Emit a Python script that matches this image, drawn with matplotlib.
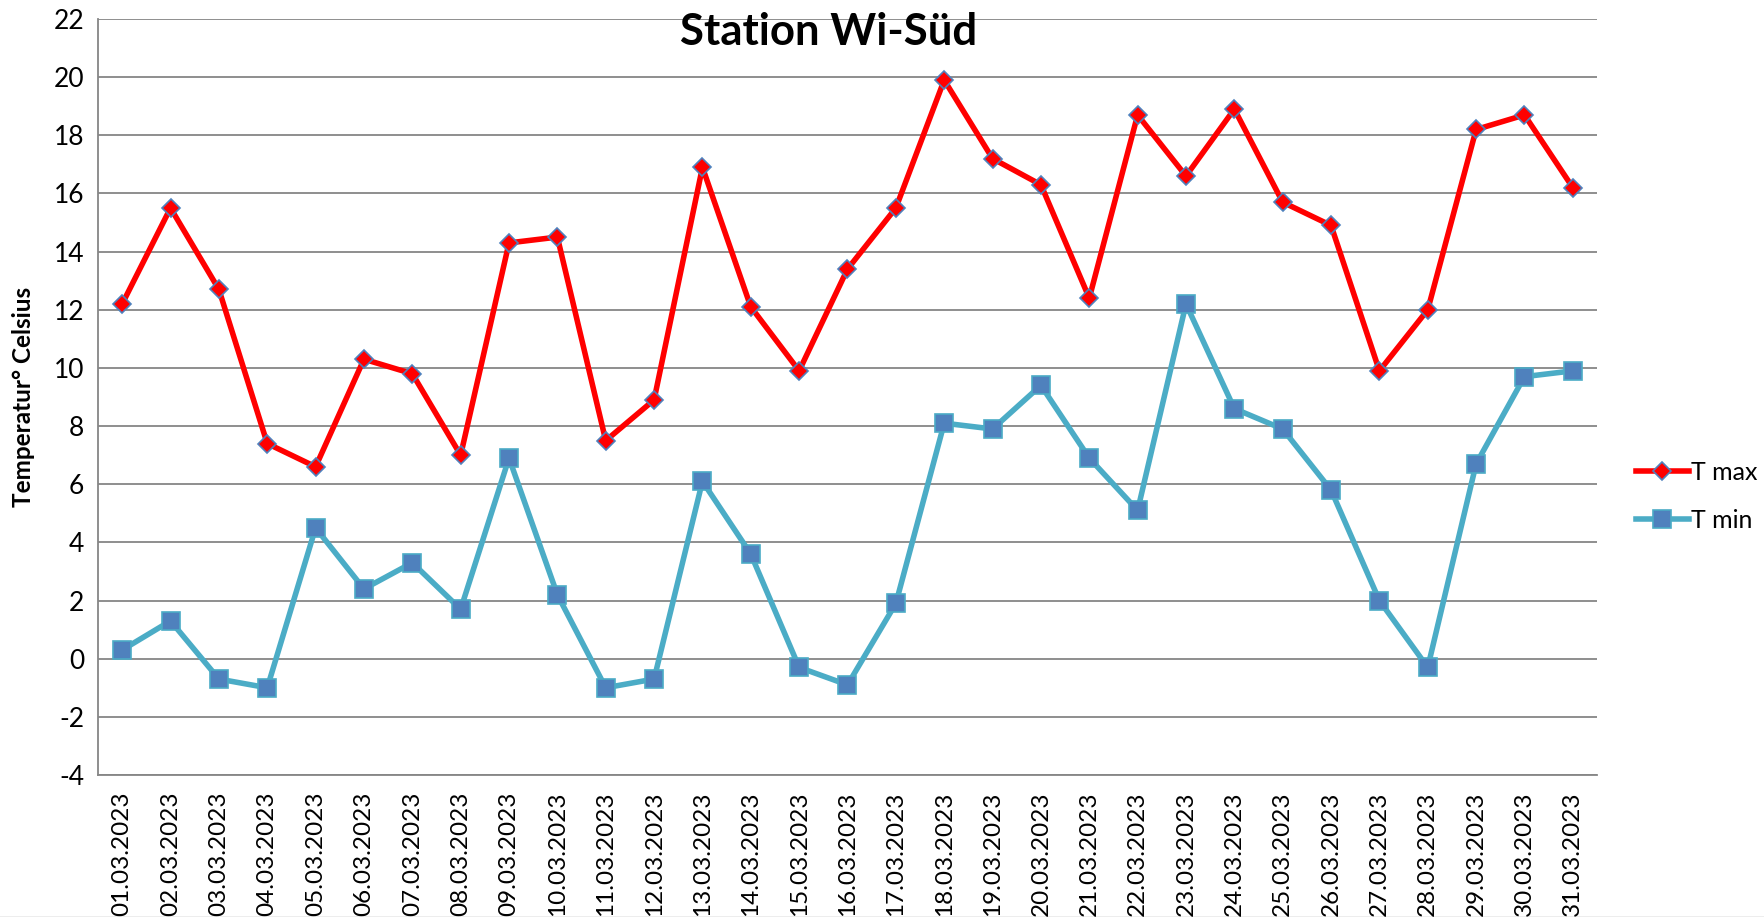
"""Daily max/min temperature, Station Wi-Sued, March 2023"""

import matplotlib
matplotlib.use("Agg")
import matplotlib.pyplot as plt
from matplotlib.lines import Line2D

days = ["%02d.03.2023" % d for d in range(1, 32)]

t_max = [12.2, 15.5, 12.7, 7.4, 6.6, 10.3, 9.8, 7.0, 14.3, 14.5,
         7.5, 8.9, 16.9, 12.1, 9.9, 13.4, 15.5, 19.9, 17.2, 16.3,
         12.4, 18.7, 16.6, 18.9, 15.7, 14.9, 9.9, 12.0, 18.2, 18.7, 16.2]

t_min = [0.3, 1.3, -0.7, -1.0, 4.5, 2.4, 3.3, 1.7, 6.9, 2.2,
         -1.0, -0.7, 6.1, 3.6, -0.3, -0.9, 1.9, 8.1, 7.9, 9.4,
         6.9, 5.1, 12.2, 8.6, 7.9, 5.8, 2.0, -0.3, 6.7, 9.7, 9.9]

y_ticks = list(range(-4, 23, 2))

plt.rcParams['font.family'] = ['Lato', 'DejaVu Sans']

fig = plt.figure(figsize=(17.64, 9.17), dpi=100)
ax = fig.add_axes([98 / 1764, 1 - 775 / 917, 1499 / 1764, 756 / 917])

x = range(len(days))
ax.plot(x, t_max, color="#FF0000", lw=4, marker="D", ms=9.5,
        mfc="#FF0000", mec="#4F81BD", mew=1.2, label="T max", zorder=3)
ax.plot(x, t_min, color="#4BACC6", lw=4, marker="s", ms=12.5,
        mfc="#4F81BD", mec="#4BACC6", mew=1.2, label="T min", zorder=3)

ax.set_xlim(-0.5, len(days) - 0.5)
ax.set_ylim(-4, 22)
ax.set_yticks(y_ticks)
ax.set_yticklabels([str(v) for v in y_ticks], fontsize=19)
ax.set_xticks(list(x))
ax.set_xticklabels(days, rotation=90, fontsize=17.5)
ax.tick_params(length=0, pad=10)
ax.tick_params(axis="x", pad=12)
ax.grid(axis="y", color="#868686", lw=1.3)
ax.set_axisbelow(True)
for side in ["top", "right"]:
    ax.spines[side].set_visible(False)
for side in ["left", "bottom"]:
    ax.spines[side].set_color("#868686")
    ax.spines[side].set_linewidth(1.3)

ax.set_ylabel("Temperatur° Celsius", fontsize=17.5, fontweight="bold",
              va="center")
ax.yaxis.set_label_coords((24 - 98) / 1499, 0.5)

fig.text(829 / 1764, 1 - 32 / 917, "Station Wi-Süd", fontsize=31.5,
         fontweight="bold", ha="center", va="center")

handles = [
    Line2D([], [], color="#FF0000", lw=4, marker="D", ms=9.5,
           mfc="#FF0000", mec="#4F81BD", mew=1.2),
    Line2D([], [], color="#4BACC6", lw=4, marker="s", ms=12.5,
           mfc="#4F81BD", mec="#4BACC6", mew=1.2),
]
fig.legend(handles, ["T max", "T min"], loc="center left",
           bbox_to_anchor=(1626 / 1764, 1 - 496 / 917), frameon=False,
           fontsize=18, handlelength=2.1, handletextpad=0.1, labelspacing=1.0,
           borderaxespad=0)

fig.add_artist(Line2D([0, 1], [0.5 / 917, 0.5 / 917], color="#A6A6A6", lw=1,
                      transform=fig.transFigure))

fig.savefig("out.png", dpi=100)
